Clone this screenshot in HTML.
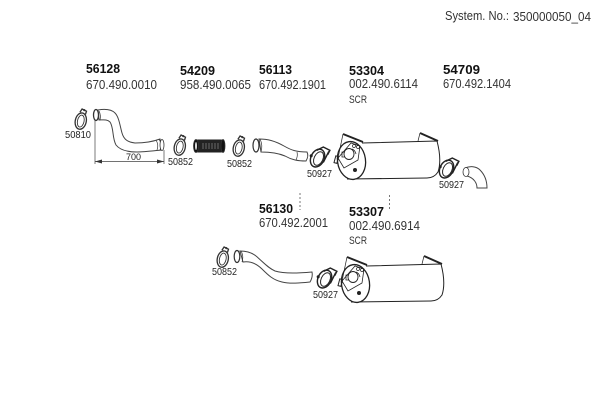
<!DOCTYPE html>
<html><head><meta charset="utf-8"><style>
html,body{margin:0;padding:0;background:#fff}
svg{display:block}
text{font-family:"Liberation Sans",sans-serif;fill:#333}
.n{font-size:13px;font-weight:bold;fill:#111}
.p{font-size:12.5px}
.s{font-size:11px}
.c{font-size:10.5px;fill:#222}
.l{fill:#fff;stroke:#444;stroke-width:1}
</style></head><body>
<svg width="600" height="400" viewBox="0 0 600 400" xmlns="http://www.w3.org/2000/svg">
<defs>
<g id="c1" fill="none" stroke="#333">
<ellipse cx="0" cy="1" rx="5" ry="7.500" transform="rotate(12)" stroke-width="1.200"/>
<ellipse cx="0" cy="1" rx="3" ry="5.500" transform="rotate(12)" stroke-width=".8"/>
<path d="M-1-7 L1-10 L5-8 L4-5" stroke-width="1.200"/>
<circle cx="3" cy="-9" r="1" fill="#333" stroke="none"/>
</g>
<g id="c2" fill="none" stroke="#222">
<ellipse cx="-2" cy="1" rx="6" ry="8.500" transform="rotate(25)" stroke-width="1.300"/>
<ellipse cx="-1" cy="1" rx="4" ry="6.500" transform="rotate(25)" stroke-width=".9"/>
<path d="M-3-7 L3-10 L9-7 L7-3 M8-6 L3 4" stroke-width="1.300"/>
<circle cx="-8" cy="-2" r="1.400" fill="#222" stroke="none"/>
</g>
<g id="m" fill="none" stroke="#222">
<path d="M362 143 L437 141 Q442 160 438 172 Q434 178 427 178 L347 179" fill="#fff" stroke-width="1"/>
<ellipse cx="351.500" cy="160.500" rx="14" ry="19" fill="#fff" stroke-width="1.300" transform="rotate(-8 351.500 160.500)"/>
<path d="M343 134 L363 142" stroke-width="2"/>
<path d="M420 133 L438 141" stroke-width="2"/>
<path d="M420 133 L418 141" stroke-width=".7"/>
<path d="M343 134 L337 163" stroke-width=".7"/>
<path d="M338 158 L351 143 L360 146 L358 160 L344 168 Z" stroke-width=".8" fill="#fff"/>
<ellipse cx="349" cy="154" rx="5" ry="5.500" stroke-width=".9" fill="#fff"/>
<path d="M345 152 h-3 v5 h3 M352 149 q3 1 4 5" stroke-width=".8"/>
<rect x="335" y="156" width="3" height="7" stroke-width="1" transform="rotate(15 336 159)"/>
<circle cx="355" cy="170" r="2" fill="#222" stroke="none"/>
<circle cx="354" cy="146" r="1.500" stroke-width=".7"/>
<circle cx="358" cy="147" r="1.500" stroke-width=".7"/>
</g>
</defs>

<text x="445" y="20" class="p" textLength="64" lengthAdjust="spacingAndGlyphs">System. No.:</text>
<text x="513" y="21" class="p" textLength="78" lengthAdjust="spacingAndGlyphs">350000050_04</text>

<text x="86" y="73" class="n" textLength="34" lengthAdjust="spacingAndGlyphs">56128</text>
<text x="86" y="89" class="p" textLength="71" lengthAdjust="spacingAndGlyphs">670.490.0010</text>
<text x="180" y="75" class="n" textLength="35" lengthAdjust="spacingAndGlyphs">54209</text>
<text x="180" y="89" class="p" textLength="71" lengthAdjust="spacingAndGlyphs">958.490.0065</text>
<text x="259" y="74" class="n" textLength="33" lengthAdjust="spacingAndGlyphs">56113</text>
<text x="259" y="89" class="p" textLength="67" lengthAdjust="spacingAndGlyphs">670.492.1901</text>
<text x="349" y="75" class="n" textLength="35" lengthAdjust="spacingAndGlyphs">53304</text>
<text x="349" y="88" class="p" textLength="69" lengthAdjust="spacingAndGlyphs">002.490.6114</text>
<text x="349" y="103" class="s" textLength="18" lengthAdjust="spacingAndGlyphs">SCR</text>
<text x="443" y="74" class="n" textLength="37" lengthAdjust="spacingAndGlyphs">54709</text>
<text x="443" y="88" class="p" textLength="68" lengthAdjust="spacingAndGlyphs">670.492.1404</text>

<text x="259" y="213" class="n" textLength="34" lengthAdjust="spacingAndGlyphs">56130</text>
<text x="259" y="227" class="p" textLength="69" lengthAdjust="spacingAndGlyphs">670.492.2001</text>
<text x="349" y="216" class="n" textLength="35" lengthAdjust="spacingAndGlyphs">53307</text>
<text x="349" y="230" class="p" textLength="71" lengthAdjust="spacingAndGlyphs">002.490.6914</text>
<text x="349" y="244" class="s" textLength="18" lengthAdjust="spacingAndGlyphs">SCR</text>

<text x="65" y="138" class="c" textLength="26" lengthAdjust="spacingAndGlyphs">50810</text>
<text x="168" y="165" class="c" textLength="25" lengthAdjust="spacingAndGlyphs">50852</text>
<text x="227" y="167" class="c" textLength="25" lengthAdjust="spacingAndGlyphs">50852</text>
<text x="307" y="177" class="c" textLength="25" lengthAdjust="spacingAndGlyphs">50927</text>
<text x="439" y="188" class="c" textLength="25" lengthAdjust="spacingAndGlyphs">50927</text>
<text x="212" y="275" class="c" textLength="25" lengthAdjust="spacingAndGlyphs">50852</text>
<text x="313" y="298" class="c" textLength="25" lengthAdjust="spacingAndGlyphs">50927</text>

<use href="#c1" transform="translate(81 120) scale(1.100)"/>
<use href="#c1" transform="translate(180 146) scale(1.100)"/>
<use href="#c1" transform="translate(239 147) scale(1.100)"/>
<use href="#c1" transform="translate(223 258) scale(1.100)"/>
<use href="#c2" transform="translate(320 158) scale(1.100)"/>
<use href="#c2" transform="translate(449 169) scale(1.100)"/>
<use href="#c2" transform="translate(327 279) scale(1.100)"/>

<!-- pipe 56128 -->
<path class="l" d="M98 110 C104 109 111 109 115 113 C119 117 120 126 122 133 C124 140 128 142 135 143 C143 143 152 142 160 139 L162 150 C152 151 144 152 137 152 C128 152 120 150 116 145 C112 138 114 128 110 122 C107 119 103 120 99 120 Z"/>
<ellipse cx="96" cy="115" rx="2.500" ry="5.500" fill="#fff" stroke="#333" stroke-width="1.300"/>
<path d="M99 111 q2 4 1 9" fill="none" stroke="#333" stroke-width=".8"/>
<path d="M156 140 q3 5 1 10 M159 139 q3 5 1 11" fill="none" stroke="#333" stroke-width=".7"/>
<ellipse cx="162" cy="145" rx="2" ry="5.500" fill="#fff" stroke="#333" stroke-width=".8"/>
<path d="M95 120 V164 M164 150 V164 M95 161.500 H164" fill="none" stroke="#444" stroke-width=".7"/>
<path d="M95 161.500 l7-2 v4 Z M164 161.500 l-7-2 v4 Z" fill="#333"/>
<text x="126" y="160" font-size="9" style="fill:#222">700</text>

<!-- bellows -->
<rect x="196" y="139.500" width="27" height="13" rx="2" fill="#222"/>
<ellipse cx="196" cy="146" rx="2.500" ry="6.500" fill="#111" stroke="#333" stroke-width=".8"/>
<ellipse cx="196" cy="146" rx="1" ry="4" fill="#ddd"/>
<ellipse cx="223" cy="146" rx="2" ry="6.500" fill="#111" stroke="#333" stroke-width=".8"/>
<path d="M203 143v6M206 143v6M209 143v6M212 143v6M215 143v6M218 143v6" stroke="#888" stroke-width=".7"/>

<!-- pipe 56113 -->
<path class="l" d="M259 139 C268 139 275 141 284 146 C291 150 296 152 307 152 Q309 156 306 161 C298 161 292 160 285 156 C278 153 270 152 261 152 Z"/>
<ellipse cx="256" cy="145.500" rx="3" ry="6.500" fill="#fff" stroke="#333" stroke-width="1.200"/>
<path d="M260 139 q3 6 1 13 M297 152 q1 4 -1 8" fill="none" stroke="#333" stroke-width=".7"/>

<!-- pipe 56130 -->
<path class="l" d="M240 251 C246 251 251 252 256 256 C263 262 268 268 275 271 C285 274 300 273 312 272 Q313 277 310 282 C300 283 290 284 282 282 C273 280 268 275 262 269 C256 263 250 261 243 262 Z"/>
<ellipse cx="237" cy="256.500" rx="2.800" ry="6" fill="#fff" stroke="#333" stroke-width="1.200"/>
<path d="M241 251 q3 5 1 11" fill="none" stroke="#333" stroke-width=".7"/>

<!-- elbow -->
<path class="l" d="M465 168 C470 166 476 166 480 170 C485 175 487 181 487 188 L477 188 C477 183 474 178 467 176 Z"/>
<ellipse cx="466" cy="172" rx="3" ry="4.500" fill="#fff" stroke="#333" stroke-width=".8"/>

<use href="#m"/>
<use href="#m" x="4" y="123"/>

<path d="M300 193 V210 M389.500 195 V210" stroke="#777" stroke-width="1" stroke-dasharray="2 2" fill="none"/>
</svg>
</body></html>
